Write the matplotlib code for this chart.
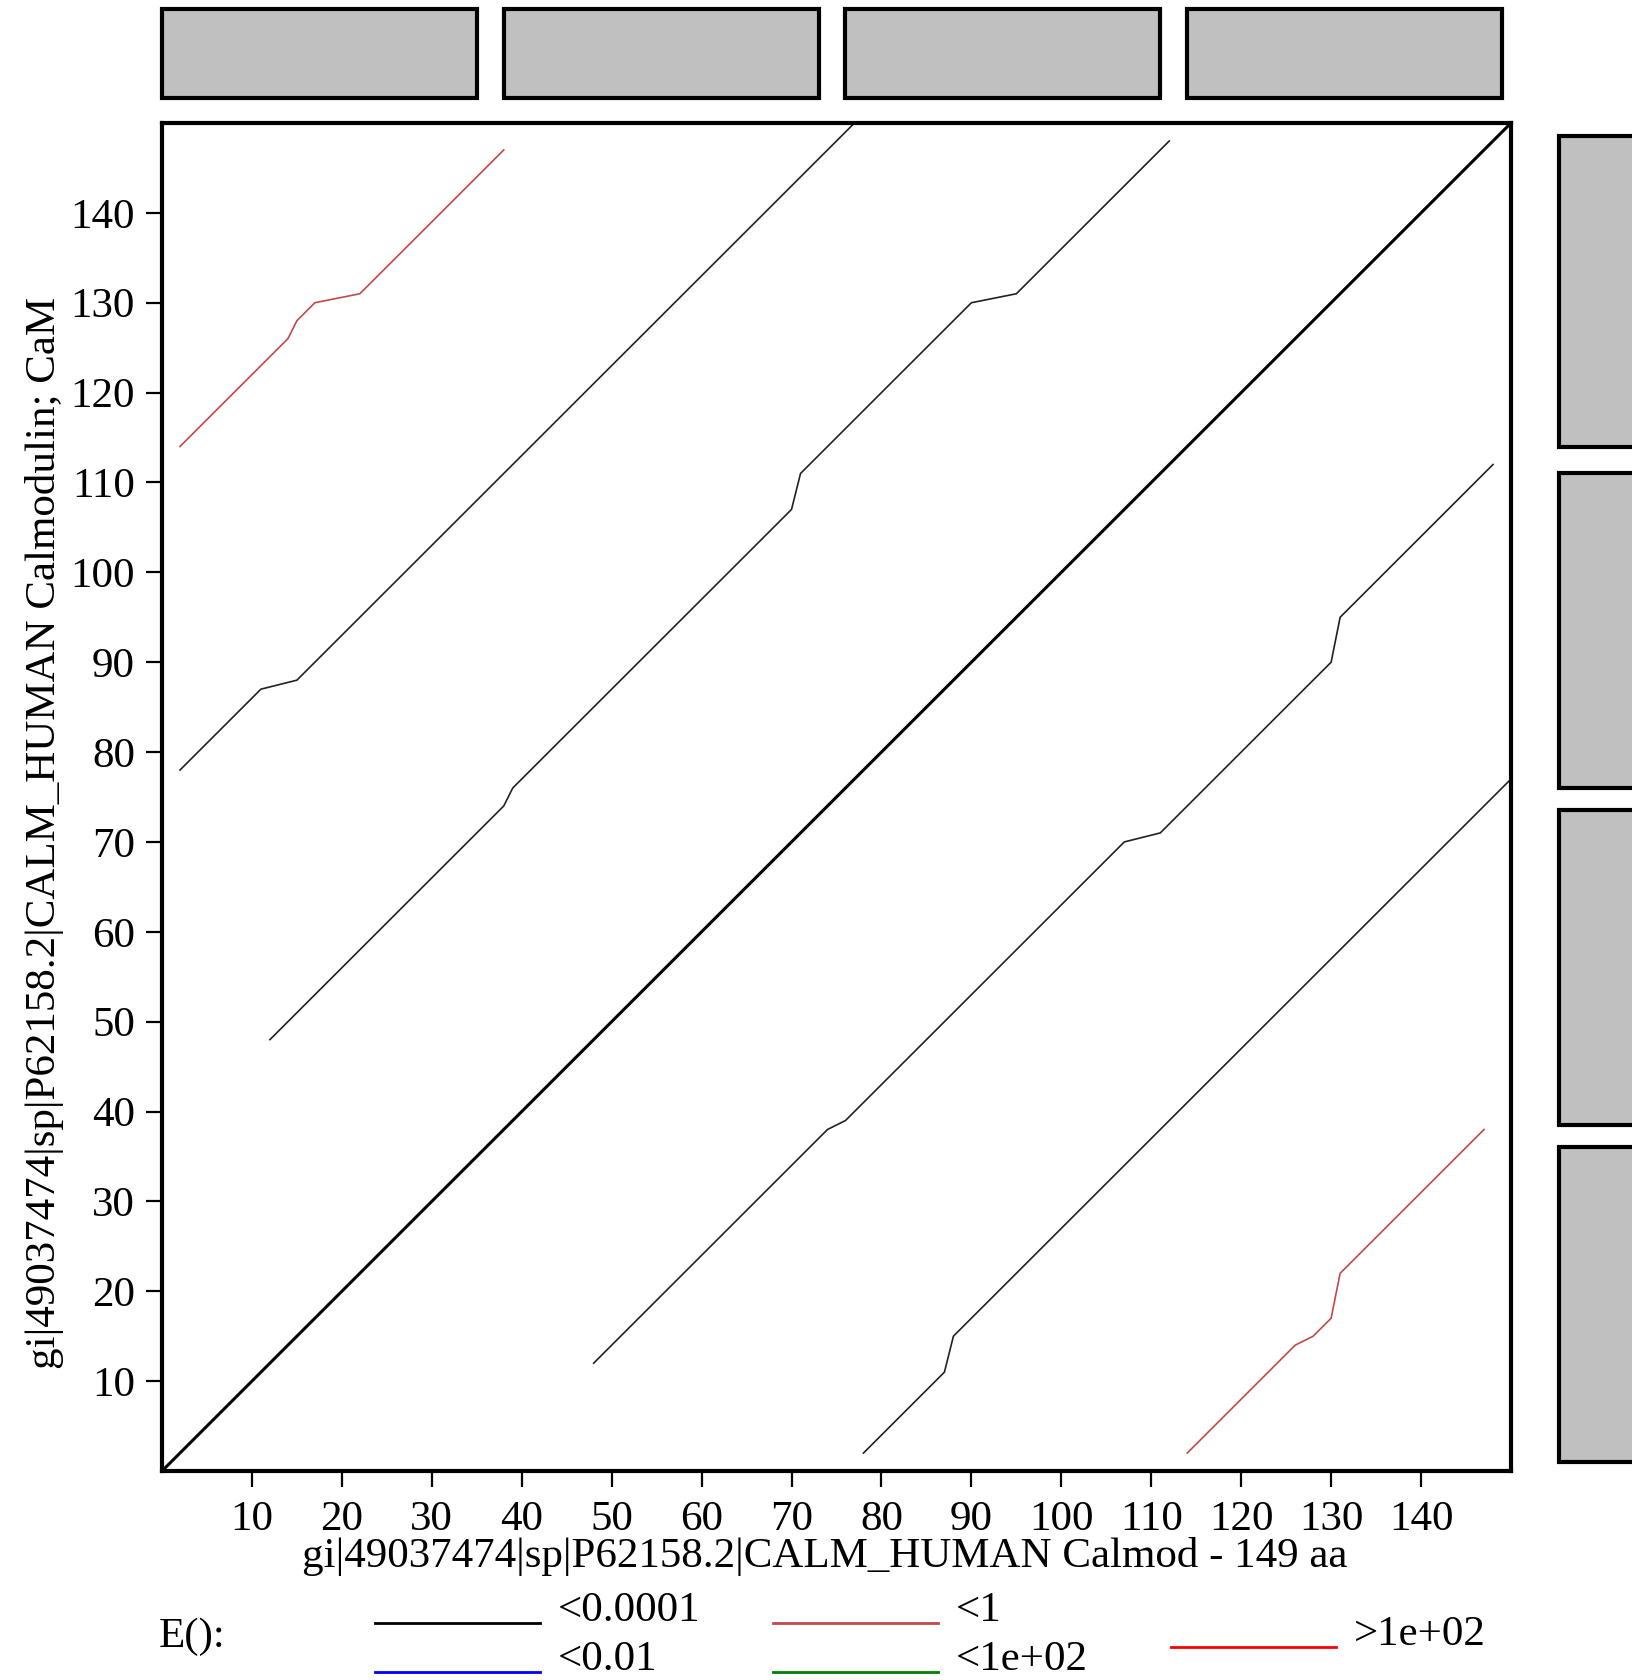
import matplotlib
matplotlib.use("Agg")
import matplotlib.pyplot as plt
from matplotlib.patches import Rectangle
from matplotlib.lines import Line2D

plt.rcParams['font.family'] = ['Liberation Serif', 'DejaVu Serif']

# ---------------- data ----------------
SEQ_LEN = 150
diag_x = [0, 150]
diag_y = [0, 150]

# E < 0.0001 alignments (black)
black_a_x = [2, 11, 15, 77]
black_a_y = [78, 87, 88, 150]
black_b_x = [12, 38, 39, 70, 71, 90, 95, 112]
black_b_y = [48, 74, 76, 107, 111, 130, 131, 148]
black_c_x = [48, 74, 76, 107, 111, 130, 131, 148]
black_c_y = [12, 38, 39, 70, 71, 90, 95, 112]
black_d_x = [78, 87, 88, 150]
black_d_y = [2, 11, 15, 77]

# E < 1 alignments (brown red)
red_a_x = [2, 14, 15, 17, 22, 38]
red_a_y = [114, 126, 128, 130, 131, 147]
red_b_x = [114, 126, 128, 130, 131, 147]
red_b_y = [2, 14, 15, 17, 22, 38]

# domain boxes (start, end) in residues
top_boxes = [(0, 35), (38, 73), (76, 111), (114, 149)]
right_boxes = [(1, 36), (38.5, 73.5), (76, 111), (114, 148.5)]

x_ticks = [10, 20, 30, 40, 50, 60, 70, 80, 90, 100, 110, 120, 130, 140]
y_ticks = [10, 20, 30, 40, 50, 60, 70, 80, 90, 100, 110, 120, 130, 140]

x_label = "gi|49037474|sp|P62158.2|CALM_HUMAN Calmod - 149 aa"
y_label = "gi|49037474|sp|P62158.2|CALM_HUMAN Calmodulin; CaM"

legend_labels = ["<0.0001", "<0.01", "<1", "<1e+02", ">1e+02"]
legend_colors = ["#000000", "#0000ff", "#c04a4a", "#008000", "#ff0000"]

# ---------------- figure ----------------
W, H = 1632, 1680
fig = plt.figure(figsize=(W / 100, H / 100), dpi=100)

def fx(px):
    return px / W

def fy(py):
    return 1 - py / H

ax_l, ax_r, ax_t, ax_b = 162, 1511, 123, 1471
ax = fig.add_axes([fx(ax_l), fy(ax_b), fx(ax_r - ax_l), (ax_b - ax_t) / H])

ax.plot(diag_x, diag_y, color="black", lw=2.2, solid_capstyle="butt")
for xs, ys in [(black_a_x, black_a_y), (black_b_x, black_b_y),
               (black_c_x, black_c_y), (black_d_x, black_d_y)]:
    ax.plot(xs, ys, color="#222222", lw=1.2)
for xs, ys in [(red_a_x, red_a_y), (red_b_x, red_b_y)]:
    ax.plot(xs, ys, color=legend_colors[2], lw=1.2)

ax.set_xlim(0, SEQ_LEN)
ax.set_ylim(0, SEQ_LEN)
ax.set_xticks(x_ticks)
ax.set_yticks(y_ticks)
ax.tick_params(direction="out", length=11.5, width=1.6, labelsize=31)
ax.tick_params(axis="x", pad=10)
ax.tick_params(axis="y", pad=8)
for s in ax.spines.values():
    s.set_linewidth(3)

# axis titles placed like the original (slightly off-centre)
fig.text(fx(825), fy(1557), x_label, fontsize=31, ha="center", va="center")
fig.text(fx(45), fy(833), y_label, fontsize=31, ha="center", va="center",
         rotation=90)

# top domain boxes
ax_top = fig.add_axes([fx(ax_l), fy(98), fx(ax_r - ax_l), 89 / H], sharex=ax)
ax_top.set_ylim(0, 1)
ax_top.axis("off")
for s, e in top_boxes:
    ax_top.add_patch(Rectangle((s, 0), e - s, 1, facecolor="#c0c0c0",
                               edgecolor="black", lw=3, clip_on=False))

# right domain boxes
ax_side = fig.add_axes([fx(1559), fy(ax_b), fx(80), (ax_b - ax_t) / H], sharey=ax)
ax_side.set_xlim(0, 1)
ax_side.axis("off")
for s, e in right_boxes:
    ax_side.add_patch(Rectangle((0, s), 1.5, e - s, facecolor="#c0c0c0",
                                edgecolor="black", lw=3, clip_on=False))

# legend
fig.text(fx(159), fy(1637), "E():", fontsize=31, va="center", ha="left")
line_x = [375, 375, 773, 773, 1171]
line_y = [1623, 1672, 1623, 1672, 1647]
for lbl, col, lx, ly in zip(legend_labels, legend_colors, line_x, line_y):
    fig.add_artist(Line2D([fx(lx), fx(lx + 165)], [fy(ly), fy(ly)],
                          color=col, lw=2, transform=fig.transFigure))
    fig.text(fx(lx + 183), fy(ly - 12), lbl, fontsize=31, va="center", ha="left")

fig.savefig("out.png", dpi=100)
